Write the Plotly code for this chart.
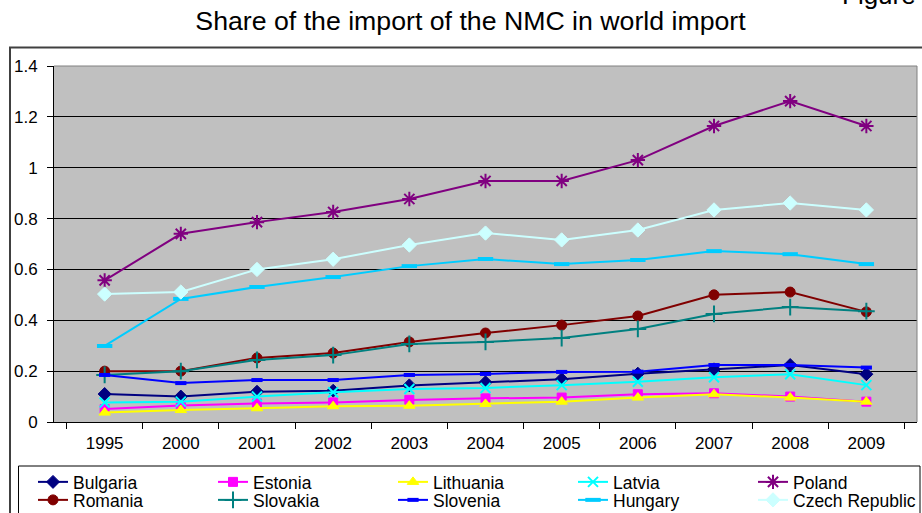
import plotly.graph_objects as go

years = ["1995", "2000", "2001", "2002", "2003", "2004", "2005", "2006", "2007", "2008", "2009"]

bulgaria = [0.110, 0.100, 0.119, 0.123, 0.144, 0.156, 0.168, 0.190, 0.207, 0.224, 0.188]
estonia = [0.051, 0.065, 0.073, 0.077, 0.087, 0.093, 0.096, 0.109, 0.113, 0.100, 0.080]
lithuania = [0.037, 0.047, 0.054, 0.062, 0.064, 0.071, 0.080, 0.096, 0.109, 0.096, 0.080]
latvia = [0.077, 0.080, 0.100, 0.117, 0.130, 0.134, 0.145, 0.158, 0.176, 0.188, 0.145]
poland = [0.557, 0.740, 0.786, 0.826, 0.877, 0.948, 0.948, 1.030, 1.164, 1.262, 1.164]
romania = [0.200, 0.200, 0.252, 0.271, 0.315, 0.350, 0.381, 0.417, 0.500, 0.511, 0.433]
slovakia = [0.185, 0.200, 0.244, 0.263, 0.307, 0.315, 0.330, 0.366, 0.425, 0.452, 0.436]
slovenia = [0.185, 0.153, 0.165, 0.165, 0.185, 0.189, 0.197, 0.198, 0.224, 0.224, 0.214]
hungary = [0.299, 0.484, 0.531, 0.570, 0.613, 0.641, 0.621, 0.637, 0.672, 0.660, 0.621]
czech = [0.503, 0.511, 0.600, 0.640, 0.696, 0.743, 0.716, 0.755, 0.834, 0.861, 0.834]

# name, values, colour, marker symbol, marker size, marker line width, legend row
series = [
    ("Bulgaria", bulgaria, "#000080", "diamond", 10, 1, "legend"),
    ("Estonia", estonia, "#FF00FF", "square", 9, 1, "legend"),
    ("Lithuania", lithuania, "#FFFF00", "triangle-up", 10, 1, "legend"),
    ("Latvia", latvia, "#00FFFF", "x-thin-open", 10, 2, "legend"),
    ("Poland", poland, "#800080", "asterisk-open", 12, 2, "legend"),
    ("Romania", romania, "#800000", "circle", 10, 1, "legend2"),
    ("Slovakia", slovakia, "#008080", "cross-thin-open", 12, 2, "legend2"),
    ("Slovenia", slovenia, "#0000FF", "line-ew-open", 8, 4, "legend2"),
    ("Hungary", hungary, "#00CCFF", "line-ew-open", 11, 4, "legend2"),
    ("Czech Republic", czech, "#CCFFFF", "diamond", 11, 1, "legend2"),
]

FONT = "Liberation Sans, Arial, sans-serif"

# plot area in pixels: x 54..917, y 66..422
L, T, W, H = 54, 66, 863, 356


def px_x(x):
    return (x - L) / W


def px_y(y):
    return (T + H - y) / H


fig = go.Figure()
for name, vals, color, symbol, size, lw, leg in series:
    fig.add_trace(go.Scatter(
        x=years, y=vals, name=name, mode="lines+markers", legend=leg,
        line=dict(color=color, width=2),
        marker=dict(symbol=symbol, size=size, color=color,
                    line=dict(color=color, width=lw)),
    ))

# grey top and right edges of the plot area
fig.add_shape(type="line", xref="paper", yref="paper", x0=0, x1=1, y0=1, y1=1,
              line=dict(color="#808080", width=1), layer="above")
fig.add_shape(type="line", xref="paper", yref="paper", x0=1, x1=1, y0=0, y1=1,
              line=dict(color="#808080", width=1), layer="above")
# outer chart border
fig.add_shape(type="rect", xref="paper", yref="paper",
              x0=px_x(10), x1=1.2, y0=-0.5, y1=px_y(47.5),
              line=dict(color="#404040", width=2))
# legend box
fig.add_shape(type="rect", xref="paper", yref="paper",
              x0=px_x(18.5), x1=px_x(920), y0=px_y(530), y1=px_y(466),
              fillcolor="white", line=dict(color="black", width=1), layer="below")

fig.add_annotation(text="Figure", xref="paper", yref="paper",
                   x=px_x(840), y=px_y(-5),
                   xanchor="left", yanchor="middle", showarrow=False,
                   font=dict(family=FONT, size=26, color="black"))

legend_style = dict(orientation="h", xanchor="left", yanchor="top",
                    entrywidth=135, entrywidthmode="pixels",
                    bgcolor="rgba(0,0,0,0)", borderwidth=0,
                    font=dict(family=FONT, size=17.5, color="black"))

fig.update_layout(
    width=922, height=513,
    margin=dict(l=L, r=922 - L - W, t=T, b=513 - T - H, autoexpand=False),
    paper_bgcolor="white", plot_bgcolor="#C0C0C0",
    title=dict(text="Share of the import of the NMC in world import",
               x=470.5 / 922, xanchor="center", y=1 - 21 / 513, yanchor="middle",
               font=dict(family=FONT, size=26.7, color="black")),
    font=dict(family=FONT, size=17, color="black"),
    showlegend=True,
    legend=dict(x=px_x(33), y=px_y(464), **legend_style),
    legend2=dict(x=px_x(33), y=px_y(482), **legend_style),
)

fig.update_xaxes(type="category", showgrid=False, showline=True, linecolor="black",
                 linewidth=1, ticks="outside", tickson="boundaries", ticklen=6,
                 tickcolor="black", ticklabelstandoff=6,
                 tickfont=dict(family=FONT, size=17, color="black"))
fig.update_yaxes(range=[0, 1.4], dtick=0.2, showgrid=True, gridcolor="black",
                 gridwidth=1, zeroline=False, showline=True, linecolor="black",
                 linewidth=1, ticks="outside", ticklen=6, tickcolor="black",
                 ticklabelstandoff=6,
                 tickfont=dict(family=FONT, size=17, color="black"))

fig.write_html("out.html")
